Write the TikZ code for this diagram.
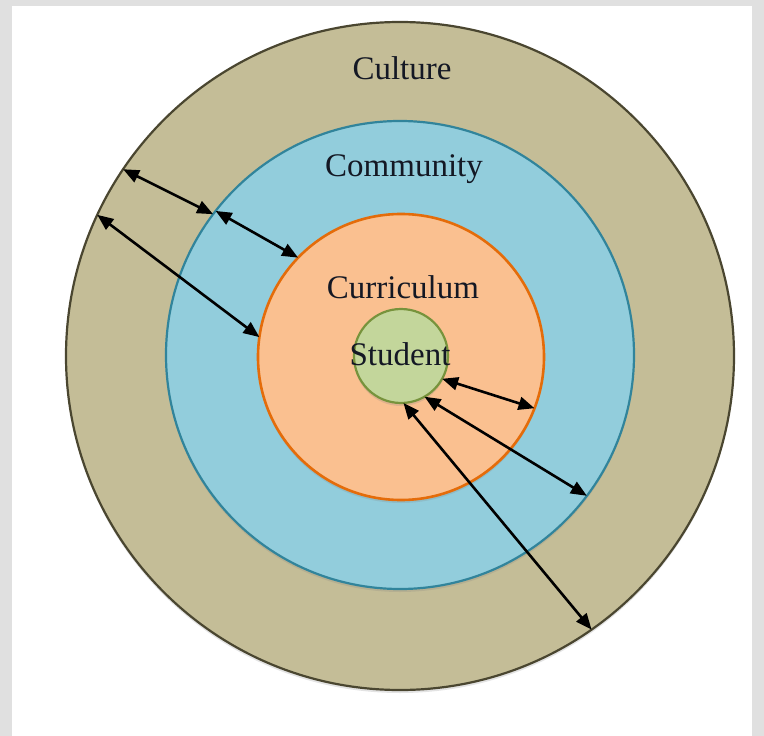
\documentclass[tikz,border=0pt]{standalone}
\usepackage{fontspec}
\setmainfont{Liberation Serif}
\usetikzlibrary{arrows.meta,shadows}

\definecolor{cultfill}{HTML}{C4BD97}
\definecolor{cultline}{HTML}{4A4630}
\definecolor{commfill}{HTML}{92CDDC}
\definecolor{commline}{HTML}{31849B}
\definecolor{currfill}{HTML}{FAC090}
\definecolor{currline}{HTML}{E46C0A}
\definecolor{studfill}{HTML}{C3D69B}
\definecolor{studline}{HTML}{77933C}
\definecolor{labeltext}{HTML}{141824}

\begin{document}
\begin{tikzpicture}[x=1pt,y=-1pt]
    \tikzset{ring/.style={circle,line width=2.2pt,inner sep=0pt,outer sep=0pt,minimum size=#1,
        drop shadow={shadow xshift=0pt,shadow yshift=-3pt,opacity=0.22}},
      ring label/.style={anchor=base,text=labeltext,font=\fontsize{33}{38}\selectfont},
      link/.style={{Triangle[length=16pt,width=13pt]}-{Triangle[length=16pt,width=13pt]},line width=2.6pt}}

    \fill[black!12] (0,0) rectangle (764,736);
    \fill[white] (12,6) rectangle (752,736);
    \useasboundingbox (0,0) rectangle (764,736);

    \node [ring=668pt,draw=cultline,fill=cultfill] (culture) at (400,356) {};
    \node [ring=468pt,draw=commline,fill=commfill] (community) at (400,355) {};
    \node [ring=286pt,draw=currline,fill=currfill,line width=2.6pt] (curriculum) at (401,357) {};
    \node [ring=94pt,draw=studline,fill=studfill] (student) at (401,356) {};

    \node [ring label] (culture-label) at (402,79) {Culture};
    \node [ring label] (community-label) at (404,176) {Community};
    \node [ring label] (curriculum-label) at (403,298) {Curriculum};
    \node [ring label] (student-label) at (400,365) {Student};

    \draw [link] (culture.146.6) -- (community.143.3);
    \draw [link] (community.142.8) -- (curriculum.136);
    \draw [link] (culture.155.4) -- (curriculum.172.4);
    \draw [link] (student.-29) -- (curriculum.-21);
    \draw [link] (student.-60) -- (community.-37);
    \draw [link] (student.-87) -- (culture.-55);
  \end{tikzpicture}
\end{document}
